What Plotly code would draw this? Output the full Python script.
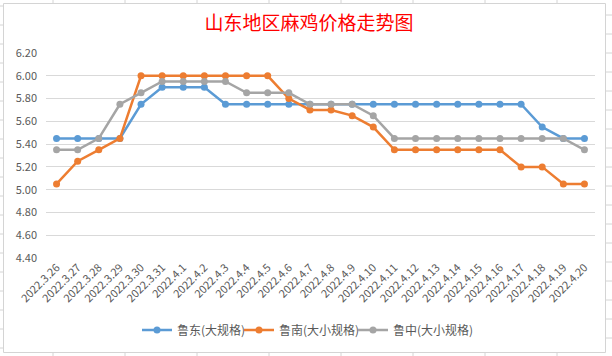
import plotly.graph_objects as go

dates = ["2022.3.26","2022.3.27","2022.3.28","2022.3.29","2022.3.30","2022.3.31",
         "2022.4.1","2022.4.2","2022.4.3","2022.4.4","2022.4.5","2022.4.6","2022.4.7",
         "2022.4.8","2022.4.9","2022.4.10","2022.4.11","2022.4.12","2022.4.13","2022.4.14",
         "2022.4.15","2022.4.16","2022.4.17","2022.4.18","2022.4.19","2022.4.20"]

ludong = [5.45,5.45,5.45,5.45,5.75,5.90,5.90,5.90,5.75,5.75,5.75,5.75,5.75,
          5.75,5.75,5.75,5.75,5.75,5.75,5.75,5.75,5.75,5.75,5.55,5.45,5.45]
lunan = [5.05,5.25,5.35,5.45,6.00,6.00,6.00,6.00,6.00,6.00,6.00,5.80,5.70,
         5.70,5.65,5.55,5.35,5.35,5.35,5.35,5.35,5.35,5.20,5.20,5.05,5.05]
luzhong = [5.35,5.35,5.45,5.75,5.85,5.95,5.95,5.95,5.95,5.85,5.85,5.85,5.75,
           5.75,5.75,5.65,5.45,5.45,5.45,5.45,5.45,5.45,5.45,5.45,5.45,5.35]

names = ["鲁东(大规格)", "鲁南(大小规格)", "鲁中(大小规格)"]
colors = ["#5B9BD5", "#ED7D31", "#A5A5A5"]
yticks = [4.4, 4.6, 4.8, 5.0, 5.2, 5.4, 5.6, 5.8, 6.0, 6.2]

W, H = 612, 356
L, R, T, B = 46, 595, 53, 258
legend_px = [137, 239, 353]
legend_keys = ["legend", "legend2", "legend3"]

fig = go.Figure()
for vals, nm, c, lk in zip([ludong, lunan, luzhong], names, colors, legend_keys):
    fig.add_trace(go.Scatter(
        x=dates, y=vals, name=nm, mode="lines+markers",
        line=dict(color=c, width=2.5),
        marker=dict(color=c, size=7),
        legend=lk,
    ))

font_family = "Noto Sans CJK SC, Noto Sans, sans-serif"
legend_common = dict(orientation="h", xanchor="left", y=-(330 - B) / (B - T), yanchor="middle",
                     font=dict(size=12, color="#595959"), itemwidth=30,
                     bgcolor="rgba(0,0,0,0)")
fig.update_layout(
    width=W, height=H,
    margin=dict(l=L, r=W - R, t=T, b=H - B, autoexpand=False),
    paper_bgcolor="white", plot_bgcolor="white",
    font=dict(family=font_family, color="#595959", size=11),
    title=dict(text="山东地区麻鸡价格走势图", x=(205 + 413) / 2 / W, xanchor="center",
               y=1 - 23 / H, yanchor="middle", xref="container", yref="container",
               font=dict(size=19, color="#FF0000", family=font_family)),
    showlegend=True,
    xaxis=dict(type="category", tickangle=-45, tickfont=dict(size=11, color="#595959"),
               showgrid=False, showline=False, ticks="", automargin=False,
               range=[-0.5, len(dates) - 0.5]),
    yaxis=dict(range=[4.4, 6.2], tickvals=yticks, ticktext=[f"{v:.2f}" for v in yticks],
               showgrid=True, gridcolor="#D9D9D9", gridwidth=1, zeroline=False,
               showline=False, ticks="", automargin=False, ticklabelstandoff=8,
               tickfont=dict(size=11, color="#595959")),
)
for lk, lx in zip(legend_keys, legend_px):
    fig.update_layout({lk: dict(x=(lx - L) / (R - L), **legend_common)})

def px_x(x):
    return (x - L) / (R - L)

def px_y(y):
    return (B - y) / (B - T)

# chart frame
fig.add_shape(type="rect", xref="paper", yref="paper",
              x0=px_x(3.5), x1=px_x(605.5), y0=px_y(352.5), y1=px_y(3.5),
              line=dict(color="#D4D4D4", width=1), fillcolor="rgba(0,0,0,0)", layer="below")
# spreadsheet cell lines visible outside the frame
for cx in [53, 125, 197, 269, 341, 413, 485, 557]:
    for y0, y1 in [(0, 3), (353, 356)]:
        fig.add_shape(type="line", xref="paper", yref="paper",
                      x0=px_x(cx), x1=px_x(cx), y0=px_y(y0), y1=px_y(y1),
                      line=dict(color="#D4D4D4", width=1), layer="below")
for cy in range(6, 356, 19):
    fig.add_shape(type="line", xref="paper", yref="paper",
                  x0=px_x(0), x1=px_x(3), y0=px_y(cy), y1=px_y(cy),
                  line=dict(color="#D4D4D4", width=1), layer="below")
for cy in range(15, 356, 19):
    fig.add_shape(type="line", xref="paper", yref="paper",
                  x0=px_x(606), x1=px_x(612), y0=px_y(cy), y1=px_y(cy),
                  line=dict(color="#D4D4D4", width=1), layer="below")

fig.write_html("out.html", config={"displayModeBar": False},
               post_script="document.body.style.margin='0';document.body.style.overflow='hidden';")
